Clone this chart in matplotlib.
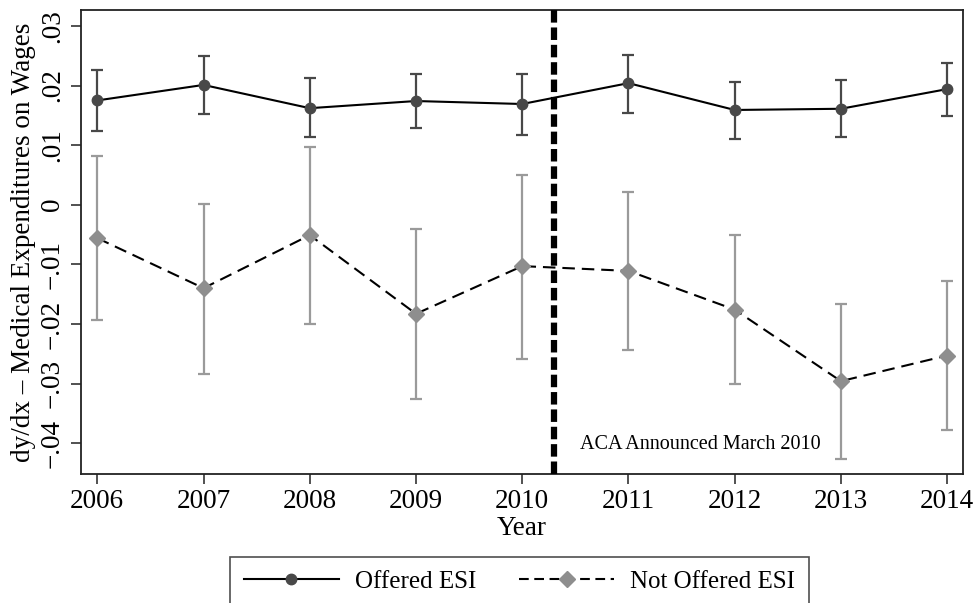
# =========================================================
# MARGINAL EFFECTS OF MEDICAL EXPENDITURES ON WAGES
# =========================================================

import matplotlib
matplotlib.use("Agg")

import matplotlib.pyplot as plt
from matplotlib.lines import Line2D


# =========================================================
# DATA
# =========================================================

years = [2006, 2007, 2008, 2009, 2010, 2011, 2012, 2013, 2014]

offered = [0.0175, 0.0201, 0.0162, 0.0174, 0.0169, 0.0204, 0.0159, 0.0161, 0.0194]
offered_lo = [0.0124, 0.0152, 0.0113, 0.0128, 0.0117, 0.0154, 0.0111, 0.0113, 0.0149]
offered_hi = [0.0226, 0.0250, 0.0212, 0.0219, 0.0220, 0.0252, 0.0206, 0.0210, 0.0238]

not_offered = [-0.0056, -0.0140, -0.0051, -0.0183, -0.0103, -0.0111, -0.0176, -0.0296, -0.0253]
not_offered_lo = [-0.0194, -0.0284, -0.0200, -0.0326, -0.0258, -0.0244, -0.0301, -0.0426, -0.0378]
not_offered_hi = [0.0082, 0.0002, 0.0097, -0.0040, 0.0050, 0.0021, -0.0050, -0.0167, -0.0128]

y_ticks = [0.03, 0.02, 0.01, 0.0, -0.01, -0.02, -0.03, -0.04]
y_tick_labels = [".03", ".02", ".01", "0", "\u2212.01", "\u2212.02", "\u2212.03", "\u2212.04"]

aca_year = 2010.3
aca_label = "ACA Announced March 2010"


# =========================================================
# STYLE
# =========================================================

plt.rcParams["font.family"] = ["Liberation Serif", "DejaVu Serif"]
plt.rcParams["lines.scale_dashes"] = False

DARK = "#484848"
LIGHT = "#8e8e8e"
LIGHT_BAR = "#9a9a9a"


# =========================================================
# FIGURE
# =========================================================

fig = plt.figure(figsize=(9.73, 6.03), dpi=100)

ax = fig.add_axes([0.0833, 0.2134, 0.9065, 0.770])

# error bars
off_err = [
    [v - lo for v, lo in zip(offered, offered_lo)],
    [hi - v for v, hi in zip(offered, offered_hi)]
]

not_err = [
    [v - lo for v, lo in zip(not_offered, not_offered_lo)],
    [hi - v for v, hi in zip(not_offered, not_offered_hi)]
]

ax.errorbar(
    years, offered, yerr=off_err,
    fmt="none", ecolor=DARK, elinewidth=1.6,
    capsize=4.5, capthick=1.6, zorder=2
)

ax.errorbar(
    years, not_offered, yerr=not_err,
    fmt="none", ecolor=LIGHT_BAR, elinewidth=1.6,
    capsize=4.5, capthick=1.6, zorder=2
)

# series lines
ax.plot(
    years, offered,
    color="black", linewidth=1.5,
    marker="o", markersize=7.5,
    markerfacecolor=DARK, markeredgecolor=DARK,
    zorder=3
)

ax.plot(
    years, not_offered,
    color="black", linewidth=1.5, dashes=(9, 5),
    marker="D", markersize=8,
    markerfacecolor=LIGHT, markeredgecolor=LIGHT,
    zorder=3
)

# ACA line
ax.axvline(
    aca_year, color="black", linewidth=4.5,
    dashes=(9, 3.5), zorder=4
)

ax.text(
    2010.54, -0.0403, aca_label,
    fontsize=14.5, va="center", ha="left"
)


# =========================================================
# AXES
# =========================================================

ax.set_xlim(2005.847, 2014.15)
ax.set_ylim(-0.04523, 0.03267)

ax.set_xticks(years)
ax.set_xticklabels([str(y) for y in years], fontsize=19.5)

ax.set_yticks(y_ticks)
ax.set_yticklabels(
    y_tick_labels, fontsize=19.5,
    rotation=90, va="center"
)

ax.tick_params(
    axis="both", direction="out", length=7.2,
    width=1.2, color="#333333"
)
ax.tick_params(axis="x", pad=3.5)
ax.tick_params(axis="y", pad=4.5)

for s in ax.spines.values():
    s.set_linewidth(1.3)
    s.set_color("#222222")

ax.set_xlabel("Year", fontsize=19.5, labelpad=1)
ax.set_ylabel(
    "dy/dx \u2013 Medical Expenditures on Wages",
    fontsize=19.5, labelpad=3
)


# =========================================================
# LEGEND
# =========================================================

handles = [
    Line2D(
        [0], [0], color="black", linewidth=1.5,
        marker="o", markersize=7.5,
        markerfacecolor=DARK, markeredgecolor=DARK
    ),
    Line2D(
        [0], [0], color="black", linewidth=1.5, dashes=(7, 4),
        marker="D", markersize=8,
        markerfacecolor=LIGHT, markeredgecolor=LIGHT
    )
]

leg = fig.legend(
    handles, ["Offered ESI", "Not Offered ESI"],
    loc="upper center", bbox_to_anchor=(0.534, 0.0763),
    ncol=2, fontsize=18, frameon=True, fancybox=False,
    handlelength=3.8, handletextpad=0.65, columnspacing=1.7,
    borderpad=0.55, borderaxespad=0, numpoints=1
)

leg.get_frame().set_edgecolor("#222222")
leg.get_frame().set_linewidth(1.2)


# Save graph
fig.savefig("out.png", dpi=100)

plt.close(fig)
